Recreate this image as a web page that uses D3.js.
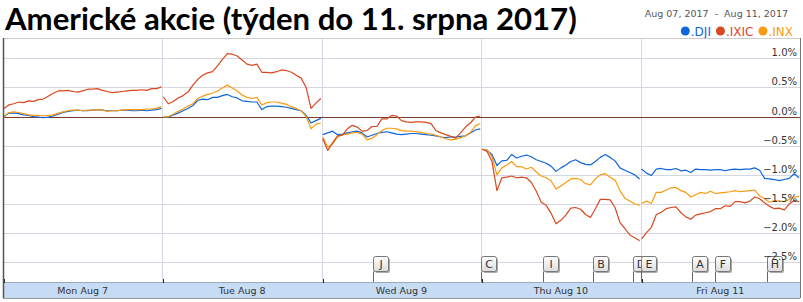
<!DOCTYPE html>
<html>
<head>
<meta charset="utf-8">
<script src="https://cdn.jsdelivr.net/npm/d3@7"></script>
<style>
  html, body { margin: 0; padding: 0; background: #fff; }
  svg { display: block; }
</style>
</head>
<body>
<div id="chart"></div>
<script>
const DAYS = ['Mon Aug 7', 'Tue Aug 8', 'Wed Aug 9', 'Thu Aug 10', 'Fri Aug 11'];
const Y_TICKS = [1.0, 0.5, 0.0, -0.5, -1.0, -1.5, -2.0, -2.5];

// % change vs. previous close, sampled evenly through each session
const DJI = [
  [0.0, 0.06, 0.06, 0.05, 0.03, 0.02, 0.0, -0.01, -0.02, -0.01, 0.01, 0.04, 0.07, 0.09, 0.1, 0.11, 0.1, 0.1, 0.11, 0.12, 0.11, 0.1, 0.1, 0.1, 0.11, 0.11, 0.1, 0.1, 0.11, 0.1, 0.11, 0.12, 0.14],
  [-0.01, -0.01, 0.03, 0.06, 0.1, 0.14, 0.19, 0.28, 0.3, 0.29, 0.33, 0.33, 0.36, 0.38, 0.34, 0.32, 0.27, 0.26, 0.25, 0.25, 0.12, 0.17, 0.18, 0.18, 0.17, 0.16, 0.14, 0.12, 0.1, 0.02, -0.11, -0.07, -0.03],
  [-0.31, -0.28, -0.25, -0.31, -0.3, -0.28, -0.26, -0.25, -0.28, -0.35, -0.32, -0.29, -0.27, -0.26, -0.28, -0.3, -0.31, -0.3, -0.29, -0.29, -0.3, -0.31, -0.32, -0.33, -0.35, -0.36, -0.35, -0.35, -0.34, -0.33, -0.28, -0.23, -0.21],
  [-0.56, -0.58, -0.65, -0.84, -0.76, -0.75, -0.65, -0.71, -0.68, -0.66, -0.69, -0.74, -0.77, -0.8, -0.85, -0.94, -0.88, -0.83, -0.77, -0.74, -0.79, -0.82, -0.83, -0.77, -0.7, -0.65, -0.7, -0.76, -0.88, -0.92, -0.96, -1.0, -1.07],
  [-0.9, -0.97, -1.01, -0.9, -0.89, -0.91, -0.91, -0.89, -0.93, -0.92, -0.96, -0.9, -0.91, -0.91, -0.92, -0.91, -0.91, -0.93, -0.91, -0.9, -0.91, -0.9, -0.9, -0.88, -0.92, -1.06, -1.07, -1.08, -1.1, -1.08, -1.06, -0.98, -1.05]
];
const IXIC = [
  [0.14, 0.2, 0.22, 0.25, 0.24, 0.27, 0.26, 0.29, 0.3, 0.35, 0.4, 0.44, 0.44, 0.45, 0.43, 0.42, 0.44, 0.47, 0.47, 0.48, 0.45, 0.43, 0.41, 0.42, 0.43, 0.44, 0.45, 0.45, 0.46, 0.45, 0.48, 0.48, 0.51],
  [0.34, 0.22, 0.26, 0.32, 0.36, 0.42, 0.54, 0.64, 0.71, 0.75, 0.77, 0.87, 0.98, 1.08, 1.07, 1.04, 0.97, 0.9, 0.88, 0.9, 0.76, 0.76, 0.75, 0.77, 0.8, 0.79, 0.76, 0.71, 0.66, 0.5, 0.14, 0.23, 0.31],
  [-0.38, -0.58, -0.45, -0.33, -0.32, -0.21, -0.15, -0.18, -0.25, -0.24, -0.17, -0.17, -0.04, -0.04, 0.02, 0.01, -0.07, -0.09, -0.1, -0.09, -0.09, -0.1, -0.12, -0.24, -0.28, -0.31, -0.34, -0.37, -0.28, -0.18, -0.11, -0.01, 0.01],
  [-0.56, -0.6, -0.77, -1.27, -1.05, -1.04, -1.02, -1.05, -1.04, -1.05, -1.13, -1.28, -1.47, -1.52, -1.66, -1.84, -1.78, -1.69, -1.57, -1.56, -1.59, -1.68, -1.73, -1.58, -1.42, -1.42, -1.43, -1.56, -1.82, -1.92, -2.03, -2.08, -2.13],
  [-2.1, -1.99, -1.9, -1.68, -1.64, -1.58, -1.56, -1.55, -1.65, -1.72, -1.76, -1.69, -1.67, -1.65, -1.63, -1.58, -1.58, -1.53, -1.54, -1.46, -1.46, -1.48, -1.45, -1.38, -1.41, -1.48, -1.54, -1.58, -1.57, -1.6, -1.5, -1.44, -1.46]
];
const INX = [
  [0.0, 0.07, 0.08, 0.07, 0.05, 0.03, 0.02, 0.02, 0.01, 0.02, 0.03, 0.06, 0.08, 0.1, 0.11, 0.11, 0.1, 0.11, 0.11, 0.12, 0.11, 0.09, 0.1, 0.1, 0.11, 0.12, 0.12, 0.12, 0.12, 0.13, 0.13, 0.14, 0.17],
  [-0.01, 0.0, 0.04, 0.09, 0.13, 0.18, 0.22, 0.31, 0.35, 0.38, 0.4, 0.44, 0.49, 0.54, 0.49, 0.44, 0.37, 0.33, 0.31, 0.33, 0.2, 0.24, 0.25, 0.25, 0.23, 0.21, 0.17, 0.14, 0.1, 0.0, -0.21, -0.13, -0.11],
  [-0.35, -0.52, -0.47, -0.35, -0.31, -0.3, -0.28, -0.27, -0.3, -0.4, -0.37, -0.31, -0.24, -0.2, -0.2, -0.21, -0.24, -0.25, -0.25, -0.26, -0.27, -0.29, -0.3, -0.32, -0.35, -0.38, -0.4, -0.39, -0.36, -0.33, -0.27, -0.16, -0.12],
  [-0.56, -0.57, -0.69, -1.0, -0.88, -0.83, -0.77, -0.86, -0.86, -0.9, -0.87, -0.95, -1.02, -1.05, -1.1, -1.24, -1.19, -1.13, -1.07, -1.06, -1.08, -1.15, -1.17, -1.07, -1.0, -0.98, -1.04, -1.09, -1.27, -1.4, -1.45, -1.5, -1.52],
  [-1.49, -1.45, -1.49, -1.3, -1.3, -1.26, -1.22, -1.22, -1.27, -1.3, -1.38, -1.34, -1.3, -1.32, -1.28, -1.32, -1.31, -1.3, -1.29, -1.27, -1.29, -1.28, -1.27, -1.26, -1.36, -1.41, -1.47, -1.44, -1.45, -1.46, -1.42, -1.38, -1.37]
];

// news flags: letter and time (in trading days since Mon open)
const FLAG_LETTERS = ['J', 'C', 'I', 'B', 'D', 'E', 'A', 'F', 'H'];
const FLAG_TIMES = [2.32, 3.0, 3.385, 3.7, 3.955, 4.003, 4.32, 4.465, 4.79];

const SERIES = [
  { name: '.DJI', color: '#0f66d8', data: DJI },
  { name: '.IXIC', color: '#d9481f', data: IXIC },
  { name: '.INX', color: '#f99b10', data: INX }
];
const DRAW_ORDER = [0, 2, 1];

const W = 803, H = 302;
const svg = d3.select('#chart').append('svg').attr('width', W).attr('height', H)
  .style('font-family', 'DejaVu Sans, Verdana, sans-serif');

const plotL = 3, plotR = 800, plotT = 38, axisY = 282;
const x = d3.scaleLinear().domain([0, 5]).range([plotL, plotR]);
const y = d3.scaleLinear().domain([1.0, -2.5]).range([58.3, 262.3]);

// title
const title = svg.append('text').attr('x', 5).attr('y', 30)
  .style('font-family', 'Lato, sans-serif').style('font-weight', 700)
  .style('font-size', '28px').attr('fill', '#000')
  .text('Americké akcie (týden do 11. srpna 2017)');
const tw = title.node().getComputedTextLength();
title.style('font-size', (28 * 572 / tw).toFixed(2) + 'px');

// date range + legend
svg.append('text').attr('x', 788).attr('y', 17).attr('text-anchor', 'end')
  .style('font-size', '9.5px').attr('fill', '#555').style('white-space', 'pre')
  .text('Aug 07, 2017  -  Aug 11, 2017');

const legend = svg.append('g');
let lx = 0;
SERIES.forEach(s => {
  legend.append('circle').attr('cx', lx + 4.5).attr('cy', 31).attr('r', 4.5).attr('fill', s.color);
  const t = legend.append('text').attr('x', lx + 10).attr('y', 35.5)
    .style('font-size', '12px').attr('fill', s.color).text(s.name);
  lx += 10 + t.node().getComputedTextLength() + 5;
});
legend.attr('transform', `translate(${793 - (lx - 5)},0)`);

// grid
const grid = svg.append('g');
grid.selectAll('line.h').data(Y_TICKS.filter(v => v !== 0)).enter().append('line')
  .attr('x1', plotL).attr('x2', plotR)
  .attr('y1', d => Math.round(y(d)) + 0.5).attr('y2', d => Math.round(y(d)) + 0.5)
  .attr('stroke', '#d6d6e2');
grid.selectAll('line.v').data([1, 2, 3, 4]).enter().append('line')
  .attr('x1', d => Math.round(x(d)) + 0.5).attr('x2', d => Math.round(x(d)) + 0.5)
  .attr('y1', plotT).attr('y2', axisY)
  .attr('stroke', '#d6d6e2');
svg.append('line').attr('x1', plotL).attr('x2', plotR)
  .attr('y1', Math.round(y(0)) + 0.5).attr('y2', Math.round(y(0)) + 0.5)
  .attr('stroke', '#7a3b2c');

// series, one path per session
const line = d3.line().x(d => x(d.t)).y(d => y(d.v));
DRAW_ORDER.forEach(k => {
  const s = SERIES[k];
  s.data.forEach((vals, day) => {
    const pts = vals.map((v, i) => ({ t: day + 0.006 + 0.988 * i / (vals.length - 1), v }));
    svg.append('path').datum(pts).attr('d', line)
      .attr('fill', 'none').attr('stroke', s.color).attr('stroke-width', 1.2)
      .attr('stroke-linejoin', 'round');
  });
});

// x axis band
svg.append('rect').attr('x', plotL).attr('y', axisY).attr('width', plotR - plotL).attr('height', 16)
  .attr('fill', '#c6dcf5');
svg.append('line').attr('x1', plotL).attr('x2', plotR).attr('y1', axisY + 0.5).attr('y2', axisY + 0.5)
  .attr('stroke', '#9ab');
svg.selectAll('line.tick').data(d3.range(0, 5)).enter().append('line')
  .attr('x1', d => Math.round(x(d)) + 1.5).attr('x2', d => Math.round(x(d)) + 1.5)
  .attr('y1', axisY - 3).attr('y2', axisY + 1).attr('stroke', '#222');
svg.selectAll('text.day').data(DAYS).enter().append('text')
  .attr('x', (d, i) => x(i + 0.5)).attr('y', axisY + 12).attr('text-anchor', 'middle')
  .style('font-size', '9.5px').attr('fill', '#333').text(d => d);

// flags
const defs = svg.append('defs');
const grad = defs.append('linearGradient').attr('id', 'flagfill').attr('x1', 0).attr('x2', 0).attr('y1', 0).attr('y2', 1);
grad.append('stop').attr('offset', '0%').attr('stop-color', '#ffffff');
grad.append('stop').attr('offset', '100%').attr('stop-color', '#dcdcdc');
const flags = svg.selectAll('g.flag').data(FLAG_LETTERS.map((l, i) => ({ l, t: FLAG_TIMES[i] })))
  .enter().append('g').attr('transform', d => `translate(${Math.round(x(d.t)) + 0.5},256.5)`);
flags.append('line').attr('x1', 0).attr('x2', 0).attr('y1', 15).attr('y2', axisY - 256.5)
  .attr('stroke', '#666');
flags.append('rect').attr('x', 1.5).attr('y', 1.5).attr('width', 15).attr('height', 15).attr('rx', 2)
  .attr('fill', '#aaa');
flags.append('rect').attr('x', 0).attr('y', 0).attr('width', 15).attr('height', 15).attr('rx', 2)
  .attr('fill', 'url(#flagfill)').attr('stroke', '#777');
flags.append('text').attr('x', 7.5).attr('y', 11.5).attr('text-anchor', 'middle')
  .style('font-size', '11px').attr('fill', '#333').text(d => d.l);

// y labels (drawn over the flags, as in the source)
svg.selectAll('text.yl').data(Y_TICKS).enter().append('text')
  .attr('x', 797).attr('y', d => y(d) - 2).attr('text-anchor', 'end')
  .style('font-size', '10px').attr('fill', '#333')
  .text(d => d3.format('.1f')(d) + '%');

// frame
svg.append('line').attr('x1', plotL).attr('x2', plotR).attr('y1', plotT + 0.5).attr('y2', plotT + 0.5).attr('stroke', '#ccc');
svg.append('line').attr('x1', plotL + 0.5).attr('x2', plotL + 0.5).attr('y1', plotT).attr('y2', axisY + 16).attr('stroke', '#555').attr('stroke-width', 1.5);
svg.append('line').attr('x1', plotR + 0.5).attr('x2', plotR + 0.5).attr('y1', plotT).attr('y2', axisY + 16).attr('stroke', '#777');
svg.append('line').attr('x1', plotL).attr('x2', plotR).attr('y1', axisY + 16.5).attr('y2', axisY + 16.5).attr('stroke', '#999');
</script>
</body>
</html>
